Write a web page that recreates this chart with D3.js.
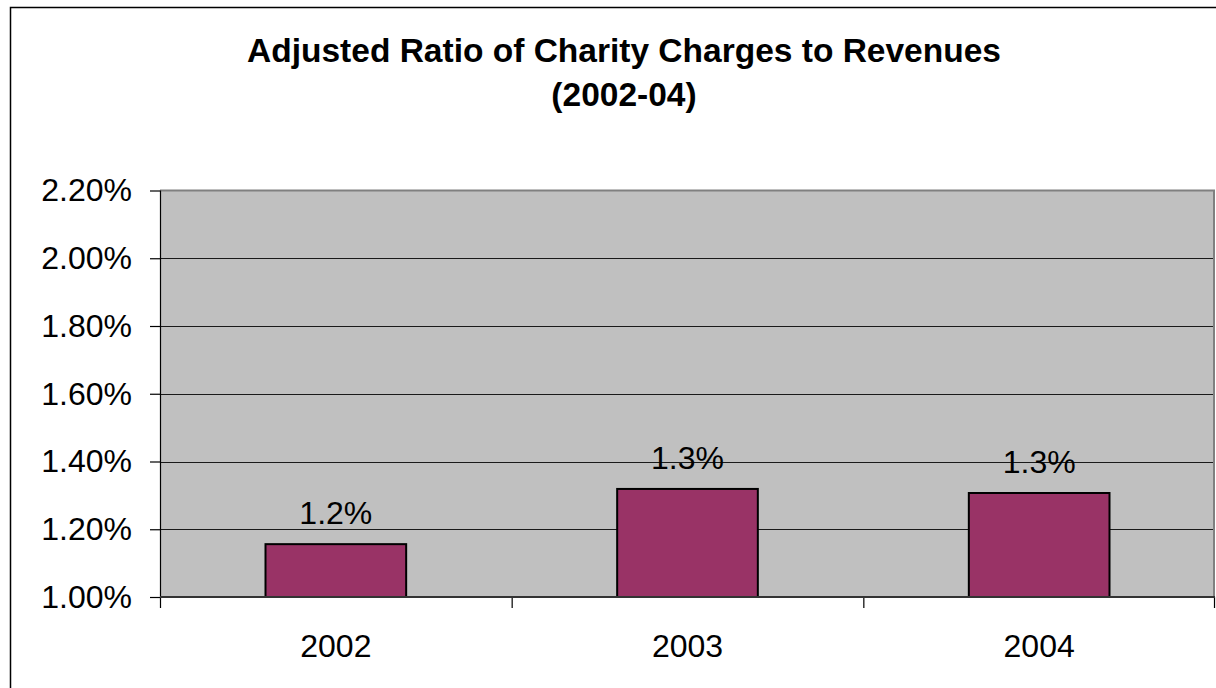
<!DOCTYPE html>
<html>
<head>
<meta charset="utf-8">
<script src="https://cdn.jsdelivr.net/npm/d3@7/dist/d3.min.js"></script>
<style>
  html, body { margin: 0; padding: 0; background: #fff; }
  svg { display: block; font-family: "Liberation Sans", Arial, Helvetica, sans-serif; }
</style>
</head>
<body>
<svg id="chart" width="1216" height="688"></svg>
<script>
// Chart data
const titleLines = ["Adjusted Ratio of Charity Charges to Revenues", "(2002-04)"];
const years = ["2002", "2003", "2004"];
const ratios = [0.01156, 0.01319, 0.01307];
const yTicks = [0.010, 0.012, 0.014, 0.016, 0.018, 0.020, 0.022];

const svg = d3.select("#chart");

// Outer chart frame (continues past the right and bottom edges)
svg.append("rect")
  .attr("x", 10.5).attr("y", 7.5)
  .attr("width", 1240).attr("height", 720)
  .attr("fill", "#fff").attr("stroke", "#000").attr("stroke-width", 1.5);

const plot = { left: 160, right: 1215, top: 190.5, bottom: 597 };

const x = d3.scaleBand()
  .domain(years)
  .range([plot.left, plot.right])
  .padding(0);

const y = d3.scaleLinear()
  .domain([0.010, 0.022])
  .range([plot.bottom, plot.top]);

// Plot background
svg.append("rect")
  .attr("x", plot.left).attr("y", plot.top)
  .attr("width", plot.right - plot.left).attr("height", plot.bottom - plot.top)
  .attr("fill", "#c0c0c0");

// Horizontal gridlines
svg.append("g")
  .selectAll("line")
  .data(yTicks.slice(1, -1))
  .join("line")
  .attr("x1", plot.left).attr("x2", plot.right)
  .attr("y1", d => Math.round(y(d)) + 0.5).attr("y2", d => Math.round(y(d)) + 0.5)
  .attr("stroke", "#1a1a1a").attr("stroke-width", 1.2);

// Plot border (gray)
svg.append("line")
  .attr("x1", plot.left).attr("x2", plot.right)
  .attr("y1", plot.top).attr("y2", plot.top)
  .attr("stroke", "#808080").attr("stroke-width", 2);
svg.append("line")
  .attr("x1", plot.right - 1).attr("x2", plot.right - 1)
  .attr("y1", plot.top).attr("y2", plot.bottom)
  .attr("stroke", "#808080").attr("stroke-width", 2);

// Bars
const barFrac = 0.4;
const barW = x.bandwidth() * barFrac;
const rows = years.map((yr, i) => ({ yr, v: ratios[i] }));
svg.append("g")
  .selectAll("rect")
  .data(rows)
  .join("rect")
  .attr("x", d => x(d.yr) + (x.bandwidth() - barW) / 2)
  .attr("y", d => y(d.v))
  .attr("width", barW)
  .attr("height", d => y(0.010) - y(d.v))
  .attr("fill", "#993366")
  .attr("stroke", "#000").attr("stroke-width", 2);

// Value labels
const fmtLabel = d3.format(".1%");
svg.append("g")
  .selectAll("text")
  .data(rows)
  .join("text")
  .attr("x", d => x(d.yr) + x.bandwidth() / 2)
  .attr("y", d => y(d.v) - 20)
  .attr("text-anchor", "middle")
  .attr("font-size", 32)
  .attr("fill", "#000")
  .text(d => fmtLabel(d.v));

// Y axis
const yAxis = d3.axisLeft(y)
  .tickValues(yTicks)
  .tickFormat(d3.format(".2%"))
  .tickSize(10)
  .tickPadding(18);
const gy = svg.append("g")
  .attr("transform", `translate(${plot.left},0)`)
  .call(yAxis);
gy.select(".domain").remove();
gy.selectAll(".tick line").attr("stroke", "#000").attr("stroke-width", 1.2);
gy.selectAll(".tick text")
  .attr("font-size", 32).attr("font-family", null).attr("fill", "#000");
svg.append("line")
  .attr("x1", plot.left + 0.5).attr("x2", plot.left + 0.5)
  .attr("y1", plot.top).attr("y2", plot.bottom + 11)
  .attr("stroke", "#000").attr("stroke-width", 1.2);

// X axis: ticks at category boundaries
const xBounds = years.map(yr => x(yr)).concat([plot.right]);
svg.append("g")
  .selectAll("line")
  .data(xBounds.slice(1))
  .join("line")
  .attr("x1", d => Math.min(d, plot.right - 1) + 0.5).attr("x2", d => Math.min(d, plot.right - 1) + 0.5)
  .attr("y1", plot.bottom).attr("y2", plot.bottom + 11)
  .attr("stroke", "#000").attr("stroke-width", 1.2);
svg.append("line")
  .attr("x1", plot.left).attr("x2", plot.right)
  .attr("y1", plot.bottom).attr("y2", plot.bottom)
  .attr("stroke", "#333").attr("stroke-width", 2);

svg.append("g")
  .selectAll("text")
  .data(years)
  .join("text")
  .attr("x", d => x(d) + x.bandwidth() / 2)
  .attr("y", plot.bottom + 60)
  .attr("text-anchor", "middle")
  .attr("font-size", 32)
  .attr("fill", "#000")
  .text(d => d);

// Title
svg.append("g")
  .selectAll("text")
  .data(titleLines)
  .join("text")
  .attr("x", 624)
  .attr("y", (d, i) => 62 + i * 44)
  .attr("text-anchor", "middle")
  .attr("font-size", 33.5)
  .attr("font-weight", "bold")
  .attr("fill", "#000")
  .text(d => d);
</script>
</body>
</html>
